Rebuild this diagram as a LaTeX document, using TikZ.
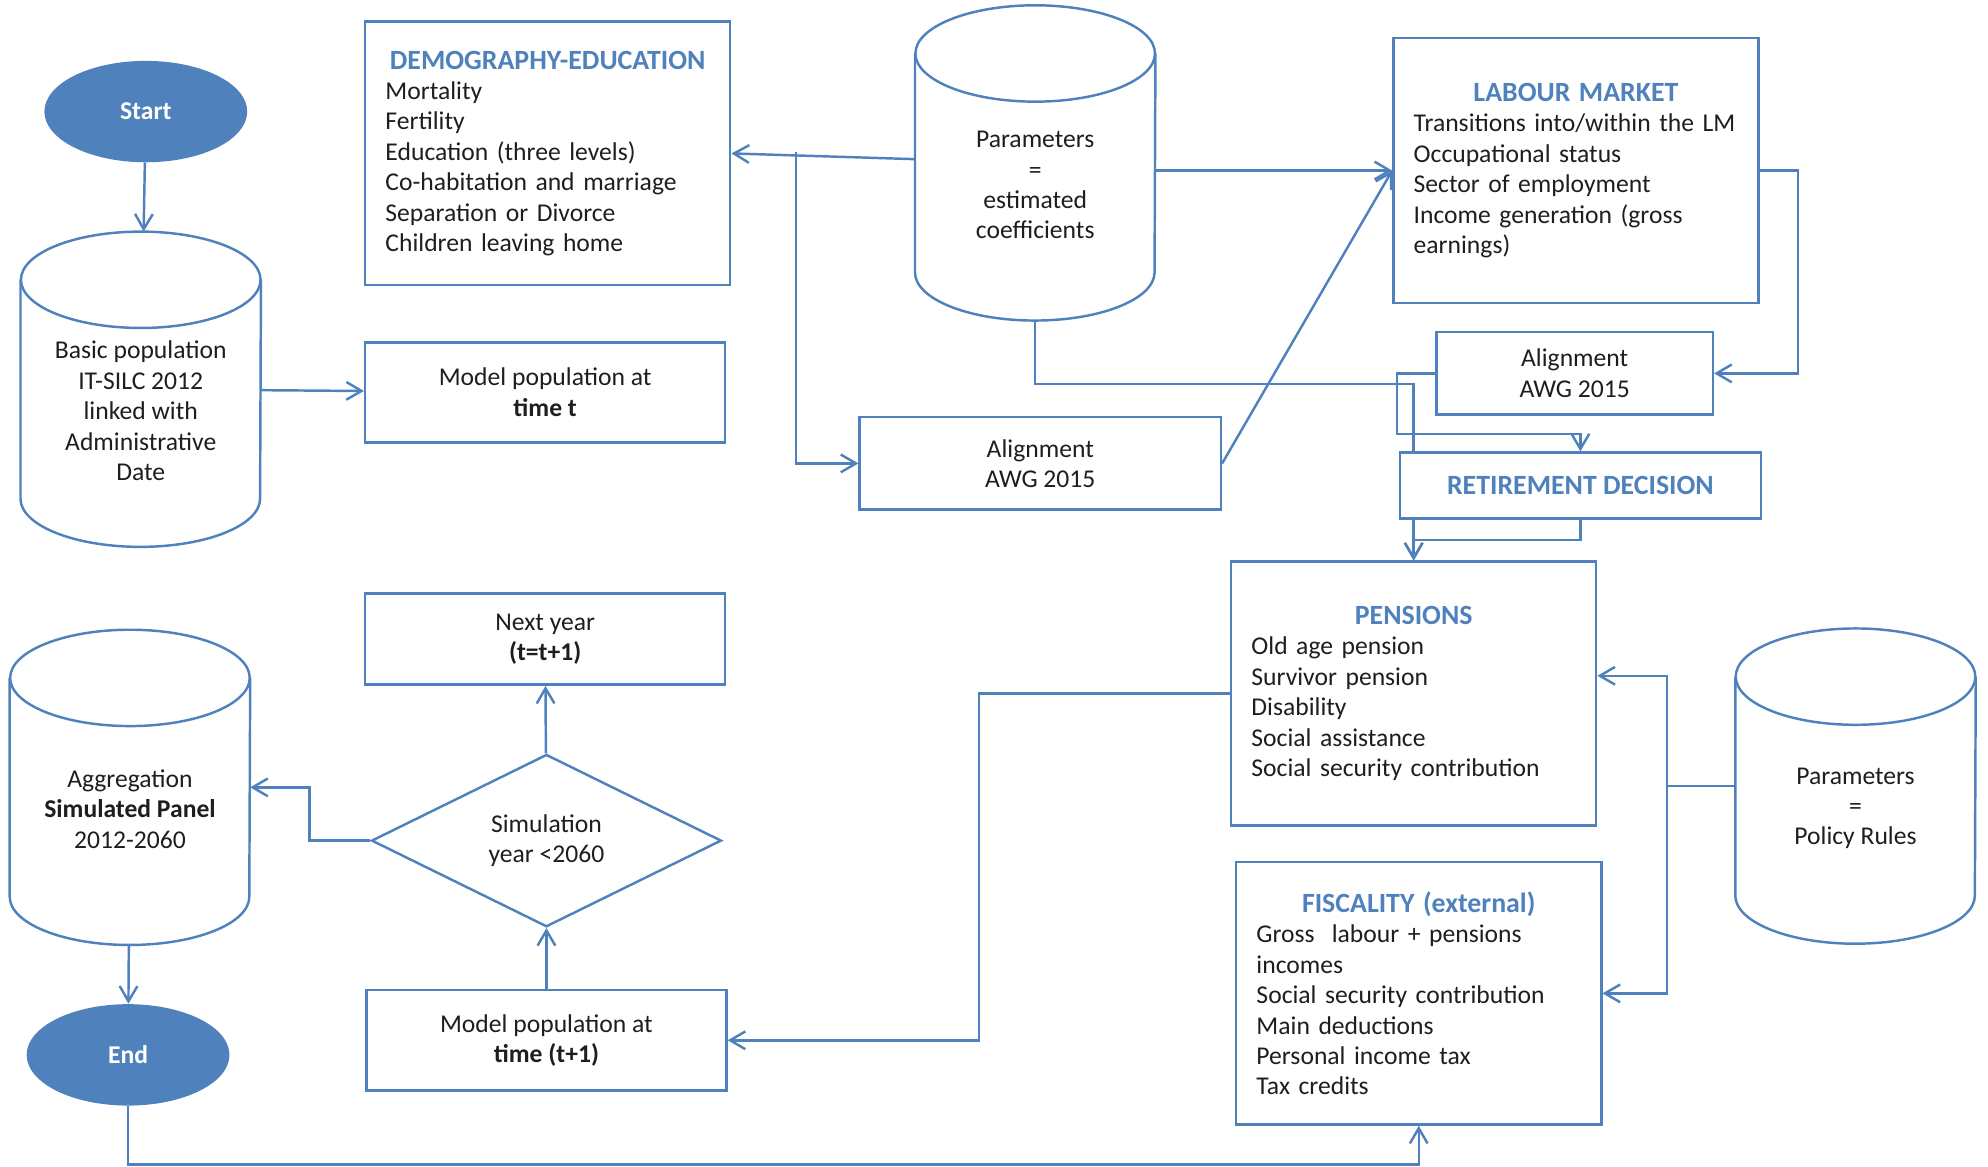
\documentclass[tikz,border=0pt]{standalone}
\usepackage{fontspec}
\setmainfont{Carlito}
\usepackage{xcolor}
\usepackage{tikz}
\usetikzlibrary{shapes.geometric,arrows.meta,positioning,calc,backgrounds}

\definecolor{mainblue}{RGB}{79,129,189}
\definecolor{titleblue}{RGB}{79,129,189}
\definecolor{inkgray}{RGB}{30,30,30}
\newcommand{\boxtitle}[1]{{\centering\fontsize{12.5}{13.66}\selectfont\color{titleblue}\bfseries #1\par}}
% first-line strut: pushes the text below the cylinder lid
\newcommand{\cylpad}{\rule{0pt}{0.96cm}}
% cylinder outline around a named node
\newcommand{\drawdatabase}[1]{%
    \draw[dbline] ($(#1.north west)+(0,38)$) -- ($(#1.south west)+(0,-38)$)
        arc[start angle=180, end angle=360, x radius=1.89cm, y radius=0.76cm]
        -- ($(#1.north east)+(0,38)$);
    \draw[dbline] ($(#1.north)+(0,38)$) ellipse[x radius=1.89cm, y radius=0.76cm];
}

\begin{document}
\begin{tikzpicture}[
    x=0.02cm, y=-0.02cm,
    every node/.style={font=\fontsize{11.5}{13.66}\selectfont, text=inkgray},
    terminal/.style={ellipse, fill=mainblue, minimum width=3.2cm, minimum height=1.6cm, text=white, font=\fontsize{11.5}{13.66}\selectfont\bfseries},
    process/.style={rectangle, draw=mainblue, line width=1.1pt, align=center},
    module/.style={rectangle, draw=mainblue, line width=1.1pt, minimum width=5.76cm, text width=5.12cm, inner xsep=0.32cm, align=left},
    database/.style={rectangle, minimum width=3.78cm, minimum height=4.96cm, inner sep=0pt, align=center},
    dbline/.style={draw=mainblue, line width=1.1pt},
    decision/.style={diamond, draw=mainblue, line width=1.1pt, minimum width=5.52cm, minimum height=2.72cm, aspect=2, align=center},
    arrow/.style={draw=mainblue, line width=1.1pt, -{Straight Barb[length=2.4mm, width=2.8mm]}}
]
    \useasboundingbox (0,0) rectangle (1568,920);

    \node[terminal] (start) at (115,88) {Start};
    \node[database] (basic) at (111,307) {\cylpad Basic population\\IT-SILC 2012\\linked with\\Administrative\\Date};
    \node[process, minimum width=5.68cm, minimum height=1.58cm] (modelt) at (430,309.5) {Model population at\\\textbf{time t}};
    \node[module, minimum height=4.16cm] (demo) at (432,121) {\boxtitle{DEMOGRAPHY-EDUCATION}Mortality\\Fertility\\Education (three levels)\\Co-habitation and marriage\\Separation or Divorce\\Children leaving home};
    \node[database] (params1) at (816.5,128.5) {\cylpad Parameters\\=\\estimated\\coefficients};
    \node[process, minimum width=5.7cm, minimum height=1.46cm] (align1) at (820.5,365.5) {Alignment\\AWG 2015};
    \node[module, minimum height=4.18cm] (labour) at (1243,134.5) {\boxtitle{LABOUR MARKET}Transitions into/within the LM\\Occupational status\\Sector of employment\\Income generation (gross\\earnings)};
    \node[process, minimum width=4.36cm, minimum height=1.3cm] (align2) at (1242,294.5) {Alignment\\AWG 2015};
    \node[process, minimum width=5.7cm, minimum height=1.04cm, fill=white] (retire) at (1246.5,383) {\textcolor{titleblue}{\fontsize{12.5}{13.66}\selectfont\bfseries RETIREMENT DECISION}};
    \node[module, minimum height=4.16cm] (pensions) at (1115,547) {\boxtitle{PENSIONS}Old age pension\\Survivor pension\\Disability\\Social assistance\\Social security contribution};
    \node[module, minimum height=4.14cm] (fiscal) at (1119,783.5) {\boxtitle{FISCALITY (external)}Gross\ \ labour + pensions\\incomes\\Social security contribution\\Main deductions\\Personal income tax\\Tax credits};
    \node[database] (params2) at (1463.5,620) {\cylpad Parameters\\=\\Policy Rules};
    \node[process, minimum width=5.68cm, minimum height=1.58cm] (modelt1) at (431,820.5) {Model population at\\\textbf{time (t+1)}};
    \node[decision] (decide) at (431,663) {Simulation\\year <2060};
    \node[process, minimum width=5.68cm, minimum height=1.44cm] (nextyear) at (430,504) {Next year\\\textbf{(t=t+1)}};
    \node[database] (aggr) at (102.5,621) {\cylpad Aggregation\\\textbf{Simulated Panel}\\2012-2060};
    \node[terminal] (finish) at (101,832) {End};
    \coordinate (demojoin) at (628,120);

    \drawdatabase{basic}
    \drawdatabase{params1}
    \drawdatabase{params2}
    \drawdatabase{aggr}

    \begin{scope}[on background layer]
    \draw[arrow] (start) -- (basic);
    \draw[arrow] (basic) -- (modelt);
    \draw[arrow] (params1) -- (demo.east);
    \draw[arrow] (demojoin) |- (align1);
    \draw[arrow] (params1.east |- labour) -- (labour);
    \draw[arrow] (align1.east) -- (labour.west);
    \draw[arrow] (labour.east) -- ++(30,0) |- (align2.east);
    \draw[arrow] (align2.west) -- ++(-30,0) -- ++(0,48) -| (retire.north);
    \draw[arrow] (params1.south) -- ++(0,50) -| (pensions.north);
    \draw[arrow] (retire.south) -- ++(0,16) -| (pensions.north);
    \draw[arrow] (params2.west) -- ++(-54,0) |- ($(pensions.east)+(0,-14)$);
    \draw[arrow] (params2.west) -- ++(-54,0) |- (fiscal.east);
    \draw[arrow] (pensions.west) -- ++(-198,0) |- (modelt1.east);
    \draw[arrow] (modelt1) -- (decide);
    \draw[arrow] (decide) -- (nextyear);
    \draw[arrow] (decide.west) -- ++(-48,0) |- (aggr.east);
    \draw[arrow] (aggr) -- (finish);
    \draw[arrow] (finish.south) -- ++(0,46) -| (fiscal.south);
    \end{scope}

\end{tikzpicture}
\end{document}
